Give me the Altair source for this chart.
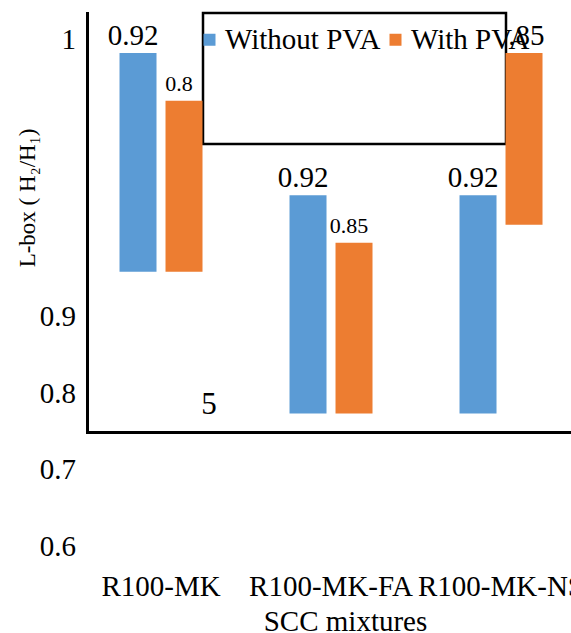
import altair as alt
import pandas as pd

# SCC mixtures and the two PVA series
mixtures = ["R100-MK", "R100-MK-FA", "R100-MK-NS"]
series = ["Without PVA", "With PVA"]
colors = ["#5B9BD5", "#ED7D31"]

# L-box ratio (H2/H1) per mixture
without_pva = [0.92, 0.92, 0.92]
with_pva = [0.85, 0.85, 0.85]

# floating bar extents on the L-box axis
high_without = [1.243, 1.058, 1.058]
low_without = [0.9585, 0.774, 0.774]
high_with = [1.181, 0.996, 1.243]
low_with = [0.9585, 0.774, 1.0196]

# data labels (the first "With PVA" label is split in two pieces)
labels_without = ["0.92", "0.92", "0.92"]
labels_with = ["0.8", "0.85", "0.85"]
labels_with_tail = ["5", "", ""]

# y tick labels and where they sit on the axis
tick_text = ["1", "0.9", "0.8", "0.7", "0.6"]
tick_at = [1.26, 0.9, 0.8, 0.7, 0.6]

rows = []
for i, m in enumerate(mixtures):
    rows.append(dict(mixture=m, series=series[0], value=without_pva[i],
                     high=high_without[i], low=low_without[i],
                     head=labels_without[i], tail=""))
    rows.append(dict(mixture=m, series=series[1], value=with_pva[i],
                     high=high_with[i], low=low_with[i],
                     head=labels_with[i], tail=labels_with_tail[i]))
df = pd.DataFrame(rows)
ticks_df = pd.DataFrame({"tick": tick_text, "tick_at": tick_at})
box_df = pd.DataFrame({"box": [0]})

FONT = "Times New Roman, Liberation Serif, serif"

yscale = alt.Scale(domain=[0.75, 1.295], nice=False, zero=False)
yax = alt.Axis(
    title="L-box ( H\u2082/H\u2081)", labels=False, ticks=False, grid=False,
    domainColor="black", domainWidth=3, domainCap="square",
    titleFont=FONT, titleFontSize=23, titleFontWeight="normal", titleColor="black",
    titleAngle=270, titleAlign="center", titleBaseline="middle",
    titleX=-60, titleY=184.5,
)
xscale = alt.Scale(domain=mixtures, paddingInner=0.5118, paddingOuter=0.1794, align=0.533)
xax = alt.Axis(
    title="SCC mixtures", labelAngle=0, ticks=False, grid=False,
    domainColor="black", domainWidth=3, domainCap="square",
    labelFont=FONT, labelFontSize=29, labelColor="black",
    labelBaseline="alphabetic", labelPadding=163, labelOverlap=False, labelBound=False,
    labelLimit=400,
    titleFont=FONT, titleFontSize=29, titleFontWeight="normal", titleColor="black",
    titleX=258, titleY=198, titleAlign="center", titleBaseline="alphabetic",
)
X = alt.X("mixture:N", sort=mixtures, scale=xscale, axis=xax)
XO = alt.XOffset("series:N", sort=series,
                 scale=alt.Scale(domain=series, paddingInner=0.1957, paddingOuter=0))

base = alt.Chart(df)

value_labels = base.mark_text(
    font=FONT, baseline="middle", align="center", dx=-5, dy=-17, color="black"
).encode(
    x=X, xOffset=XO,
    y=alt.Y("high:Q", scale=yscale, axis=yax),
    text="head:N",
    size=alt.condition(
        "datum.series == 'With PVA' && datum.mixture != 'R100-MK-NS'",
        alt.value(22), alt.value(29)),
)

label_tail = base.transform_joinaggregate(
    floor="min(low)"
).transform_filter(
    "datum.tail != ''"
).mark_text(
    font=FONT, fontSize=31, baseline="alphabetic", align="center", dx=25, color="black"
).encode(
    x=X, xOffset=XO,
    y=alt.Y("floor:Q", scale=yscale, axis=yax),
    text="tail:N",
)

y_ticks = alt.Chart(ticks_df).mark_text(
    font=FONT, fontSize=29, baseline="middle", align="right", color="black"
).encode(
    x=alt.value(-11),
    y=alt.Y("tick_at:Q", scale=yscale, axis=yax),
    text="tick:N",
)

legend_box = alt.Chart(box_df).mark_rect(
    fill="white", stroke="black", strokeWidth=2.5
).encode(
    x=alt.value(116), x2=alt.value(419), y=alt.value(0), y2=alt.value(131)
)

bars = base.mark_bar().encode(
    x=X, xOffset=XO,
    y=alt.Y("high:Q", scale=yscale, axis=yax),
    y2="low:Q",
    color=alt.Color(
        "series:N", sort=series,
        scale=alt.Scale(domain=series, range=colors),
        legend=alt.Legend(
            title=None, orient="none", legendX=108, legendY=12,
            direction="horizontal", symbolType="square", symbolSize=144,
            symbolStrokeWidth=0, labelFont=FONT, labelFontSize=29,
            labelColor="black", labelOffset=1, columnPadding=-17, padding=0,
            labelLimit=300,
        ),
    ),
)

chart = alt.layer(value_labels, label_tail, y_ticks, legend_box, bars).properties(
    width=484, height=419,
    padding={"left": 87, "top": 13, "right": 0, "bottom": 201},
    autosize=alt.AutoSizeParams(type="none"),
    background="white",
).configure_view(stroke=None)

chart.save("out.html", embed_options={"renderer": "svg", "actions": False})
